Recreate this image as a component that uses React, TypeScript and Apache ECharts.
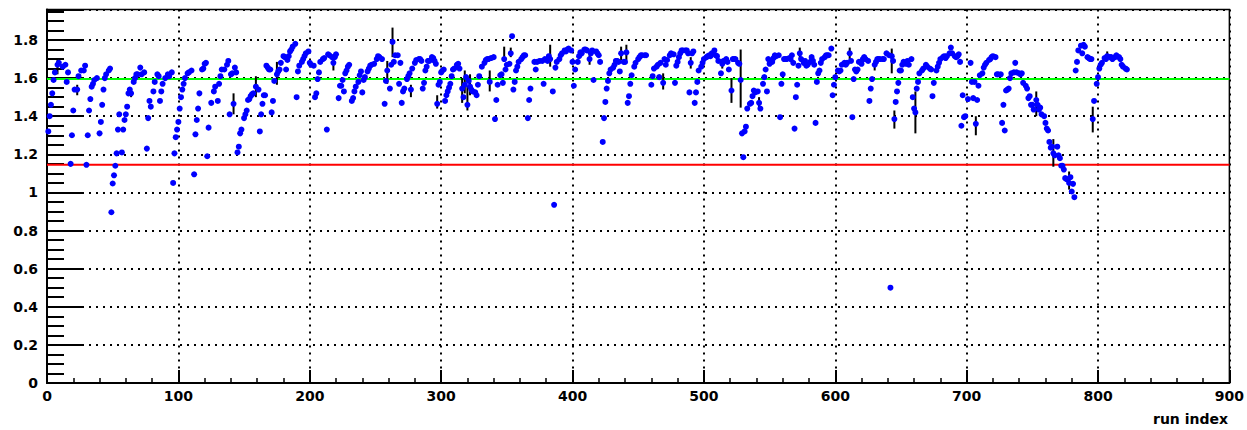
import React, { useEffect, useRef } from "react";
import * as echarts from "echarts";

// [run index, value]
const points: [number, number][] = [
  [1,1.32],[2,1.40],[3,1.46],[4,1.52],[5,1.59],[6,1.63],[8,1.67],[9,1.68],[12,1.66],[14,1.67],[15,1.58],[16,1.63],
  [18,1.15],[19,1.30],[20,1.43],[21,1.54],[23,1.54],[24,1.61],[26,1.64],[28,1.64],[29,1.665],[30,1.145],[31,1.30],
  [32,1.43],[33,1.49],[34,1.555],[35,1.57],[36,1.59],[38,1.60],[40,1.31],[41,1.37],[42,1.46],[43,1.54],[44,1.60],
  [45,1.62],[47,1.64],[48,1.65],[49,0.896],[50,1.047],[51,1.09],[52,1.14],[53,1.205],[54,1.33],[55,1.41],[57,1.21],
  [58,1.33],[59,1.38],[60,1.41],[61,1.45],[62,1.52],[63,1.54],[64,1.52],[66,1.58],[67,1.60],[68,1.62],[69,1.62],
  [71,1.655],[72,1.62],[74,1.63],[76,1.23],[77,1.39],[78,1.48],[79,1.45],[81,1.53],[82,1.58],[84,1.62],[85,1.61],
  [86,1.48],[87,1.53],[88,1.57],[90,1.60],[92,1.62],[93,1.61],[95,1.63],[96,1.05],[97,1.205],[98,1.29],[99,1.33],
  [100,1.37],[101,1.44],[102,1.50],[103,1.54],[104,1.57],[105,1.60],[107,1.625],[108,1.63],[110,1.64],[112,1.095],
  [113,1.305],[114,1.38],[115,1.44],[116,1.52],[118,1.645],[119,1.65],[120,1.675],[121,1.68],[122,1.19],[123,1.34],
  [125,1.47],[127,1.53],[128,1.555],[130,1.48],[131,1.57],[132,1.61],[133,1.645],[135,1.645],[137,1.67],[138,1.69],
  [139,1.41],[140,1.62],[141,1.625],[142,1.465],[143,1.655],[144,1.63],[145,1.21],[146,1.24],[147,1.31],[148,1.33],
  [150,1.39],[151,1.41],[152,1.43],[153,1.485],[154,1.49],[155,1.505],[156,1.515],[157,1.52],[159,1.555],[161,1.54],
  [162,1.32],[163,1.41],[164,1.465],[165,1.51],[166,1.51],[167,1.665],[168,1.655],[169,1.645],[170,1.645],[171,1.42],
  [172,1.48],[173,1.585],[175,1.62],[176,1.635],[177,1.645],[178,1.68],[180,1.715],[181,1.71],[182,1.645],[183,1.695],
  [184,1.715],[185,1.74],[186,1.75],[187,1.765],[189,1.78],[190,1.50],[191,1.635],[192,1.665],[194,1.685],[195,1.70],
  [196,1.715],[197,1.73],[199,1.74],[200,1.68],[201,1.67],[203,1.665],[204,1.50],[205,1.52],[206,1.595],[207,1.63],
  [208,1.685],[210,1.70],[211,1.705],[213,1.33],[214,1.725],[215,1.72],[217,1.71],[218,1.68],[219,1.71],[220,1.725],
  [222,1.495],[223,1.56],[224,1.56],[225,1.59],[226,1.53],[227,1.625],[228,1.64],[229,1.66],[230,1.67],[232,1.48],
  [233,1.495],[234,1.53],[235,1.555],[237,1.58],[238,1.615],[239,1.635],[240,1.525],[241,1.59],[242,1.605],[244,1.635],
  [245,1.65],[246,1.665],[247,1.67],[249,1.675],[251,1.70],[252,1.715],[253,1.71],[255,1.70],[257,1.465],[258,1.585],
  [259,1.64],[261,1.545],[262,1.67],[263,1.79],[264,1.685],[265,1.72],[267,1.72],[268,1.57],[269,1.68],[270,1.47],
  [271,1.53],[272,1.545],[274,1.595],[275,1.61],[276,1.625],[277,1.54],[278,1.65],[280,1.68],[281,1.695],[283,1.70],
  [284,1.70],[285,1.69],[286,1.545],[287,1.575],[288,1.64],[289,1.66],[290,1.69],[291,1.69],[293,1.71],[294,1.705],
  [295,1.69],[296,1.675],[297,1.465],[298,1.565],[299,1.58],[300,1.63],[301,1.64],[302,1.645],[303,1.48],[304,1.51],
  [305,1.53],[306,1.55],[307,1.57],[308,1.61],[309,1.645],[310,1.65],[312,1.67],[313,1.675],[314,1.65],[316,1.545],
  [317,1.50],[318,1.565],[319,1.605],[320,1.46],[321,1.585],[322,1.555],[323,1.54],[324,1.53],[326,1.525],[327,1.51],
  [328,1.565],[329,1.61],[331,1.66],[333,1.68],[334,1.695],[335,1.70],[336,1.70],[337,1.58],[338,1.705],[340,1.71],
  [341,1.385],[342,1.485],[343,1.565],[345,1.615],[346,1.62],[347,1.575],[348,1.70],[349,1.645],[350,1.67],[352,1.675],
  [353,1.73],[354,1.82],[355,1.54],[356,1.58],[357,1.64],[358,1.66],[359,1.685],[361,1.70],[362,1.71],[363,1.72],
  [364,1.72],[366,1.39],[367,1.485],[368,1.545],[371,1.685],[372,1.645],[373,1.685],[375,1.69],[377,1.69],[378,1.57],
  [379,1.70],[381,1.69],[382,1.715],[383,1.70],[385,1.53],[386,0.935],[387,1.655],[388,1.685],[390,1.70],[391,1.72],
  [392,1.73],[394,1.745],[395,1.74],[396,1.75],[397,1.755],[399,1.745],[400,1.685],[401,1.56],[402,1.645],[404,1.685],
  [405,1.715],[406,1.735],[407,1.73],[409,1.75],[410,1.75],[411,1.745],[413,1.70],[414,1.73],[415,1.745],[416,1.59],
  [418,1.74],[419,1.73],[420,1.72],[421,1.685],[423,1.265],[424,1.39],[425,1.475],[426,1.545],[427,1.585],[428,1.625],
  [429,1.645],[431,1.655],[432,1.67],[433,1.69],[434,1.69],[435,1.685],[436,1.635],[437,1.73],[439,1.685],[440,1.685],
  [441,1.735],[442,1.47],[443,1.505],[444,1.57],[445,1.615],[447,1.66],[448,1.68],[450,1.70],[451,1.71],[452,1.72],
  [453,1.72],[455,1.72],[456,1.72],[460,1.565],[461,1.61],[462,1.65],[464,1.66],[465,1.67],[466,1.605],[467,1.68],
  [469,1.575],[470,1.70],[471,1.67],[472,1.695],[474,1.72],[475,1.73],[477,1.725],[478,1.575],[479,1.665],[480,1.685],
  [481,1.71],[482,1.73],[483,1.745],[484,1.745],[486,1.745],[487,1.745],[488,1.73],[489,1.525],[490,1.68],[491,1.73],
  [492,1.74],[493,1.47],[494,1.525],[495,1.58],[496,1.64],[498,1.66],[499,1.68],[500,1.70],[502,1.71],[503,1.715],
  [504,1.72],[505,1.715],[506,1.73],[508,1.745],[509,1.72],[510,1.715],[511,1.69],[513,1.625],[514,1.675],[515,1.69],
  [517,1.70],[518,1.685],[519,1.645],[521,1.535],[522,1.70],[523,1.70],[524,1.70],[526,1.68],[527,1.675],[528,1.59],
  [529,1.31],[530,1.185],[531,1.32],[532,1.345],[533,1.44],[535,1.465],[536,1.47],[537,1.505],[538,1.535],[539,1.525],
  [541,1.53],[542,1.47],[543,1.44],[545,1.57],[546,1.605],[547,1.645],[548,1.53],[549,1.70],[550,1.675],[552,1.685],
  [553,1.705],[554,1.72],[555,1.715],[557,1.72],[558,1.395],[559,1.57],[560,1.62],[561,1.70],[562,1.70],[563,1.70],
  [565,1.705],[566,1.70],[567,1.72],[568,1.68],[569,1.335],[570,1.50],[571,1.565],[572,1.665],[573,1.73],[574,1.70],
  [576,1.68],[577,1.69],[578,1.665],[579,1.67],[581,1.685],[582,1.71],[583,1.69],[584,1.67],[585,1.365],[586,1.58],
  [587,1.625],[588,1.64],[589,1.68],[590,1.70],[592,1.71],[593,1.72],[594,1.72],[595,1.72],[597,1.755],[598,1.51],
  [599,1.565],[600,1.605],[602,1.64],[603,1.635],[604,1.64],[605,1.67],[607,1.68],[608,1.67],[609,1.68],[611,1.73],
  [612,1.69],[613,1.395],[614,1.595],[615,1.645],[616,1.635],[617,1.645],[618,1.685],[620,1.675],[621,1.70],[622,1.71],
  [623,1.70],[625,1.69],[626,1.48],[627,1.545],[628,1.595],[630,1.67],[631,1.685],[632,1.70],[633,1.70],[634,1.70],
  [636,1.70],[637,1.70],[639,1.73],[641,1.72],[642,0.50],[643,1.715],[644,1.69],[645,1.385],[646,1.475],[647,1.53],
  [648,1.575],[649,1.64],[650,1.64],[651,1.67],[652,1.685],[654,1.675],[655,1.69],[656,1.67],[658,1.70],[659,1.50],
  [660,1.44],[661,1.42],[662,1.545],[663,1.58],[664,1.625],[666,1.64],[667,1.65],[669,1.67],[670,1.66],[672,1.65],
  [673,1.645],[674,1.505],[675,1.575],[677,1.64],[678,1.66],[679,1.68],[680,1.70],[682,1.71],[683,1.715],[684,1.705],
  [685,1.715],[687,1.73],[688,1.76],[689,1.73],[691,1.715],[692,1.71],[693,1.715],[694,1.725],[695,1.685],[696,1.35],
  [697,1.51],[698,1.395],[699,1.40],[701,1.49],[703,1.68],[704,1.58],[705,1.495],[706,1.58],[707,1.36],[708,1.485],
  [709,1.56],[710,1.615],[712,1.625],[713,1.655],[714,1.67],[715,1.68],[717,1.695],[718,1.70],[719,1.71],[720,1.715],
  [722,1.71],[723,1.62],[724,1.62],[726,1.62],[727,1.365],[728,1.46],[729,1.325],[730,1.535],[731,1.54],[732,1.545],
  [733,1.60],[734,1.625],[736,1.63],[737,1.68],[738,1.63],[740,1.625],[741,1.62],[742,1.625],[743,1.575],[745,1.56],
  [746,1.545],[747,1.495],[748,1.505],[749,1.46],[750,1.46],[751,1.435],[753,1.485],[754,1.46],[755,1.435],[756,1.445],
  [757,1.41],[759,1.40],[760,1.365],[761,1.335],[762,1.325],[763,1.265],[764,1.235],[765,1.24],[766,1.205],[767,1.195],
  [769,1.24],[770,1.195],[771,1.18],[772,1.14],[773,1.14],[774,1.12],[775,1.075],[776,1.07],[778,1.05],[779,1.08],
  [780,1.005],[781,1.045],[782,0.975],[783,1.64],[784,1.685],[785,1.745],[787,1.77],[788,1.73],[789,1.775],[790,1.765],
  [792,1.71],[793,1.705],[794,1.70],[795,1.70],[796,1.385],[797,1.48],[799,1.57],[800,1.605],[801,1.65],[802,1.67],
  [803,1.68],[805,1.705],[806,1.70],[807,1.715],[809,1.71],[810,1.71],[811,1.70],[813,1.71],[814,1.72],[816,1.71],
  [817,1.70],[818,1.67],[819,1.66],[821,1.65],[822,1.645],
];

// [run index, low, high]
const errorBars: [number, number, number][] = [
  [8,1.62,1.70],[23,1.51,1.565],[64,1.50,1.54],[142,1.41,1.52],[159,1.50,1.61],[175,1.565,1.685],
  [218,1.64,1.70],[259,1.57,1.69],[263,1.71,1.865],[277,1.50,1.565],[297,1.44,1.51],[316,1.47,1.60],
  [318,1.52,1.64],[320,1.43,1.56],[322,1.51,1.62],[337,1.53,1.64],[348,1.685,1.765],[353,1.71,1.76],
  [383,1.66,1.775],[413,1.67,1.73],[437,1.695,1.765],[441,1.695,1.775],[469,1.54,1.625],[490,1.65,1.71],
  [514,1.65,1.70],[521,1.47,1.60],[528,1.445,1.75],[542,1.44,1.50],[573,1.70,1.76],[611,1.70,1.76],
  [630,1.64,1.69],[643,1.625,1.755],[645,1.335,1.43],[661,1.31,1.53],[707,1.30,1.40],[753,1.40,1.53],
  [766,1.135,1.28],[778,1.015,1.11],[796,1.315,1.45],[807,1.69,1.74],
];

const greenLevel = 1.595;
const redLevel = 1.145;
const xRange = [0, 900];
const yRange = [0, 1.96];
const xTitle = "run index";

const FONT = '"DejaVu Sans", sans-serif';

export default function App() {
  const ref = useRef<HTMLDivElement>(null);
  useEffect(() => {
    if (!ref.current) return;
    const chart = echarts.init(ref.current, undefined, { renderer: "svg" });
    const labelStyle = { color: "#000", fontFamily: FONT, fontWeight: "bold" as const, fontSize: 14 };
    chart.setOption({
      animation: false,
      backgroundColor: "#fff",
      grid: { left: 47, right: 17, top: 9.5, bottom: 47, show: true, borderColor: "#000", borderWidth: 1.5, containLabel: false },
      xAxis: {
        type: "value",
        min: xRange[0],
        max: xRange[1],
        interval: 100,
        axisLine: { onZero: false, lineStyle: { color: "#000", width: 2 } },
        axisTick: { inside: true, length: 13, lineStyle: { color: "#000", width: 2 } },
        minorTick: { show: true, splitNumber: 5, length: 5, lineStyle: { color: "#000", width: 1.5 } },
        splitLine: { show: true, lineStyle: { color: "#000", width: 2, type: [2, 5] } },
        axisLabel: { ...labelStyle, margin: 6 },
      },
      yAxis: {
        type: "value",
        min: yRange[0],
        max: yRange[1],
        interval: 0.2,
        axisLine: { onZero: false, lineStyle: { color: "#000", width: 2 } },
        axisTick: { inside: true, length: 35, lineStyle: { color: "#000", width: 2 } },
        minorTick: { show: true, splitNumber: 4, length: 17, lineStyle: { color: "#000", width: 2 } },
        splitLine: { show: true, lineStyle: { color: "#000", width: 2, type: [2, 5] } },
        axisLabel: { ...labelStyle, margin: 9, showMaxLabel: false },
      },
      graphic: [
        {
          type: "text",
          right: 19,
          top: 412,
          style: { text: xTitle, font: `bold 14px ${FONT}`, fill: "#000" },
        },
      ],
      series: [
        {
          type: "line",
          data: [[xRange[0], greenLevel], [xRange[1], greenLevel]],
          showSymbol: false,
          lineStyle: { color: "#00ff00", width: 2 },
          z: 2,
          silent: true,
        },
        {
          type: "line",
          data: [[xRange[0], redLevel], [xRange[1], redLevel]],
          showSymbol: false,
          lineStyle: { color: "#ff0000", width: 2 },
          z: 2,
          silent: true,
        },
        {
          type: "custom",
          data: errorBars,
          encode: { x: 0, y: [1, 2] },
          z: 3,
          renderItem: (_params: any, api: any) => {
            const x = api.value(0);
            const p1 = api.coord([x, api.value(1)]);
            const p2 = api.coord([x, api.value(2)]);
            return {
              type: "line",
              shape: { x1: p1[0], y1: p1[1], x2: p2[0], y2: p2[1] },
              style: { stroke: "#000", lineWidth: 2 },
            };
          },
        },
        {
          type: "scatter",
          data: points,
          symbol: "circle",
          symbolSize: 6,
          itemStyle: { color: "#0000ff", opacity: 1 },
          z: 4,
        },
      ],
    });
    return () => chart.dispose();
  }, []);
  return (
    <div
      ref={ref}
      style={{ position: "fixed", left: 0, top: 0, width: 1247, height: 430, background: "#fff" }}
    />
  );
}
